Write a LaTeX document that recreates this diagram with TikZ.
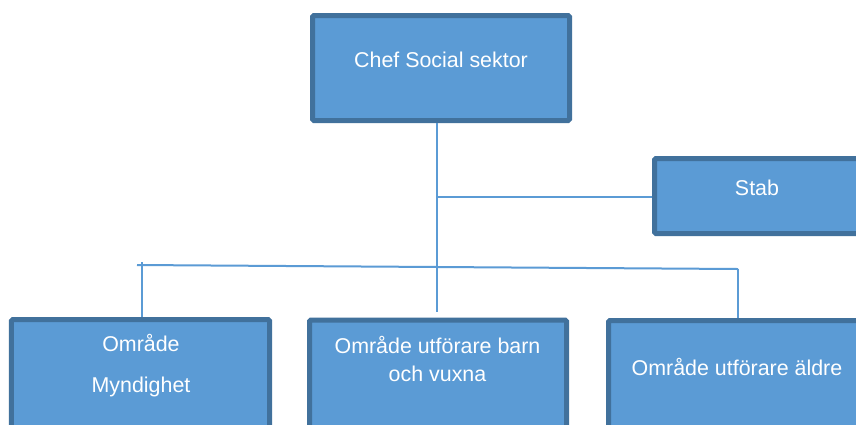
\documentclass[tikz,border=0pt]{standalone}
\usepackage{fontspec}
\setmainfont{Liberation Sans}
\definecolor{boxfill}{HTML}{5B9BD5}
\definecolor{boxline}{HTML}{41719C}
\definecolor{connc}{HTML}{5B9BD5}
\begin{document}
\begin{tikzpicture}[x=1bp,y=-1bp,
  orgbox/.style={draw=boxline, fill=boxfill, line width=5bp, rounded corners=1.5bp, inner sep=0pt},
  lbl/.style={text=white, font=\fontsize{21.4bp}{26bp}\selectfont, inner sep=0pt, anchor=base},
  connline/.style={draw=connc, line width=2bp}]
\useasboundingbox (0,0) rectangle (856,424);
\fill[white] (0,0) rectangle (856,424);
\clip (0,0) rectangle (856,424);
% boxes
\node[orgbox, minimum width=257bp, minimum height=105bp] (chef) at (441,68) {};
\node[orgbox, minimum width=205bp, minimum height=75bp] (stab) at (757,196) {};
\node[orgbox, minimum width=258bp, minimum height=130bp] (myn) at (140.5,384.5) {};
\node[orgbox, minimum width=257bp, minimum height=130bp] (barn) at (438,385) {};
\node[orgbox, minimum width=257bp, minimum height=130bp] (aldre) at (737,385.5) {};
% texts
\node[lbl] (tchef) at (441,67) {Chef Social sektor};
\node[lbl] (tstab) at (757,195) {Stab};
\node[lbl] (tmyn1) at (141,351) {Område};
\node[lbl] (tmyn2) at (141,392) {Myndighet};
\node[lbl] (tbarn1) at (437.5,353) {Område utförare barn};
\node[lbl] (tbarn2) at (437.5,381) {och vuxna};
\node[lbl] (taldre) at (737,375) {Område utförare äldre};
% connector points
\coordinate (cTop) at (437,123);
\coordinate (cBot) at (437,312);
\coordinate (cStab) at (437,197);
\coordinate (hL) at (137,265);
\coordinate (hR) at (738,269);
\coordinate (vL) at (142,262);
% connectors
\draw[connline] (cTop) -- (cBot);
\draw[connline] (cStab) -- (stab.west |- cStab);
\draw[connline] (hL) -- (hR);
\draw[connline] (vL) -- (vL |- myn.north);
\draw[connline] (hR) -- (hR |- aldre.north);
\end{tikzpicture}
\end{document}
